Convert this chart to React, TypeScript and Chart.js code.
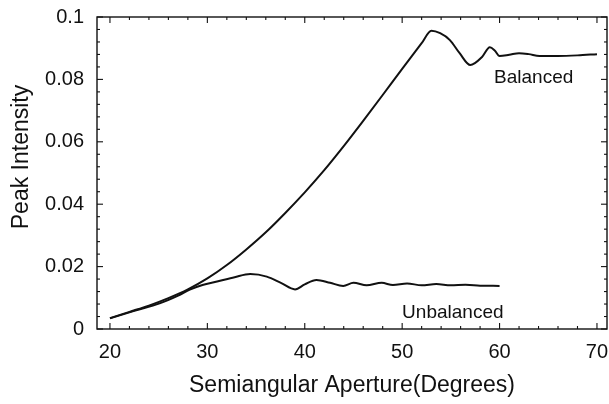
import { useEffect, useRef } from "react";
import { Chart, registerables } from "chart.js";

Chart.register(...registerables);

// ---- data ----
const balancedX = [20, 22, 24, 26, 28, 30, 32, 34, 36, 38, 40, 42, 44, 46, 48, 50, 52, 53, 53.9, 54.9, 55.9, 57, 58.2, 59, 59.5, 60, 61, 62, 63, 64.1, 66, 68, 70];
const balancedY = [0.0035, 0.0055, 0.0075, 0.0099, 0.0127, 0.0162, 0.0205, 0.0255, 0.031, 0.0372, 0.0438, 0.0509, 0.0586, 0.0667, 0.075, 0.0834, 0.0916, 0.0956, 0.0948, 0.0926, 0.0884, 0.0846, 0.0872, 0.0903, 0.0893, 0.0875, 0.0879, 0.0884, 0.0881, 0.0875, 0.0875, 0.0877, 0.0881];

const unbalancedX = [20, 22.5, 25.1, 27, 28.2, 29.5, 31, 32.8, 34.4, 36.1, 37.6, 39, 40, 41.2, 42.6, 43.95, 45, 46.35, 47.9, 49.05, 50.5, 52, 53.5, 55, 56.5, 58, 60];
const unbalancedY = [0.0034, 0.0058, 0.0082, 0.0107, 0.0126, 0.0141, 0.0152, 0.0166, 0.0176, 0.0168, 0.0147, 0.0127, 0.0143, 0.0157, 0.0148, 0.0138, 0.0148, 0.014, 0.0148, 0.0141, 0.0146, 0.014, 0.0144, 0.014, 0.0142, 0.0139, 0.0138];

const xTicks = [20, 30, 40, 50, 60, 70];
const yTicks = [0, 0.02, 0.04, 0.06, 0.08, 0.1];
const xRange = [18.67, 71.03];
const yRange = [0, 0.1];

const xTitle = "Semiangular Aperture(Degrees)";
const yTitle = "Peak Intensity";
const seriesLabels = ["Balanced", "Unbalanced"];
const labelAt = [
  { x: 63.5, y: 0.0806 },
  { x: 55.2, y: 0.0051 },
];

const FONT = "'Liberation Sans', Arial, Helvetica, sans-serif";

const framePlugin = {
  id: "frameTicks",
  afterDatasetsDraw(chart: any) {
    const { ctx, chartArea: a, scales } = chart;
    const xs = scales.x;
    const ys = scales.y;
    ctx.save();
    ctx.strokeStyle = "#111";
    ctx.lineWidth = 1.4;
    ctx.strokeRect(a.left, a.top, a.right - a.left, a.bottom - a.top);
    ctx.lineWidth = 1.1;
    const line = (x1: number, y1: number, x2: number, y2: number) => {
      ctx.beginPath();
      ctx.moveTo(x1, y1);
      ctx.lineTo(x2, y2);
      ctx.stroke();
    };
    // x ticks (major + 4 minor)
    const xStep = (xTicks[1] - xTicks[0]) / 5;
    for (let i = 0; i <= (xTicks.length - 1) * 5; i++) {
      const v = xTicks[0] + i * xStep;
      const px = xs.getPixelForValue(v);
      const len = i % 5 === 0 ? 6 : 3;
      line(px, a.bottom, px, a.bottom - len);
      line(px, a.top, px, a.top + len);
    }
    const yStep = (yTicks[1] - yTicks[0]) / 5;
    for (let i = 0; i <= (yTicks.length - 1) * 5; i++) {
      const v = yTicks[0] + i * yStep;
      const py = ys.getPixelForValue(v);
      const len = i % 5 === 0 ? 6 : 3;
      line(a.left, py, a.left + len, py);
      line(a.right, py, a.right - len, py);
    }
    // series labels
    ctx.fillStyle = "#111";
    ctx.font = `19px ${FONT}`;
    ctx.textAlign = "center";
    ctx.textBaseline = "middle";
    seriesLabels.forEach((t, i) => {
      ctx.fillText(t, xs.getPixelForValue(labelAt[i].x), ys.getPixelForValue(labelAt[i].y));
    });
    // y title
    ctx.font = `23px ${FONT}`;
    ctx.translate(22, 157);
    ctx.rotate(-Math.PI / 2);
    ctx.fillText(yTitle, 0, 0);
    ctx.restore();
  },
};

export default function App() {
  const ref = useRef<HTMLCanvasElement | null>(null);
  useEffect(() => {
    document.body.style.margin = "0";
    const canvas = ref.current!;
    const chart = new Chart(canvas, {
      type: "line",
      data: {
        datasets: [
          {
            label: seriesLabels[0],
            data: balancedX.map((x, i) => ({ x, y: balancedY[i] })),
            borderColor: "#111",
            borderWidth: 2,
            pointRadius: 0,
            cubicInterpolationMode: "monotone",
            fill: false,
          },
          {
            label: seriesLabels[1],
            data: unbalancedX.map((x, i) => ({ x, y: unbalancedY[i] })),
            borderColor: "#111",
            borderWidth: 2,
            pointRadius: 0,
            cubicInterpolationMode: "monotone",
            fill: false,
          },
        ],
      },
      options: {
        animation: false,
        responsive: false,
        devicePixelRatio: 1,
        layout: { padding: { top: 17, right: 2, left: 0, bottom: 0 } },
        plugins: { legend: { display: false }, tooltip: { enabled: false } },
        scales: {
          x: {
            type: "linear",
            min: xRange[0],
            max: xRange[1],
            grid: { display: false },
            border: { display: false },
            afterBuildTicks: (s: any) => {
              s.ticks = xTicks.map((v) => ({ value: v }));
            },
            afterFit: (s: any) => {
              s.height = 75;
              s.paddingRight = 0;
              s.paddingLeft = 0;
            },
            ticks: {
              color: "#111",
              padding: 3,
              font: { family: FONT, size: 20 },
              maxRotation: 0,
            },
            title: {
              display: true,
              text: xTitle,
              color: "#111",
              font: { family: FONT, size: 23 },
              padding: { top: 2, bottom: 5 },
            },
          },
          y: {
            type: "linear",
            min: yRange[0],
            max: yRange[1],
            grid: { display: false },
            border: { display: false },
            afterBuildTicks: (s: any) => {
              s.ticks = yTicks.map((v) => ({ value: v }));
            },
            afterFit: (s: any) => {
              s.width = 97;
            },
            ticks: {
              color: "#111",
              padding: 5,
              font: { family: FONT, size: 20 },
              callback: (v: any) => String(Number(v)),
            },
          },
        },
      },
      plugins: [framePlugin],
    });
    return () => chart.destroy();
  }, []);
  return (
    <div style={{ position: "absolute", left: 0, top: 0, width: 609, height: 404, background: "#fff" }}>
      <canvas ref={ref} width={609} height={404} />
    </div>
  );
}
